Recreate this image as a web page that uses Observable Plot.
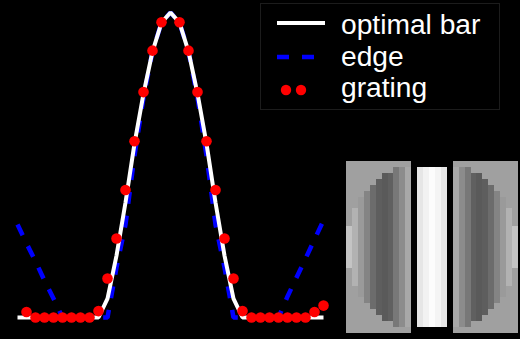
<!DOCTYPE html>
<html>
<head>
<meta charset="utf-8">
<script src="https://cdn.jsdelivr.net/npm/d3@7"></script>
<script src="https://cdn.jsdelivr.net/npm/@observablehq/plot@0.6"></script>
<style>
  html, body { margin: 0; padding: 0; background: #000; }
  #chart { position: relative; width: 520px; height: 339px; background: #000; overflow: hidden; font-family: "Liberation Sans", Arial, Helvetica, sans-serif; }
  #chart > * { position: absolute; }
</style>
</head>
<body>
<div id="chart"></div>
<script>
// ---- data ----
const positions = [-17,-16,-15,-14,-13,-12,-11,-10,-9,-8,-7,-6,-5,-4,-3,-2,-1,0,1,2,3,4,5,6,7,8,9,10,11,12,13,14,15,16,17];
const optimalBar = [0,0,0,0,0,0,0,0,0,0,0.062,0.203,0.377,0.570,0.734,0.872,0.967,1.0,0.967,0.872,0.734,0.570,0.377,0.203,0.062,0,0,0,0,0,0,0,0,0,0];
const edge = [0.305,0.243,0.184,0.121,0.062,0,0,0,0,0,0,0.164,0.305,0.531,0.721,0.872,0.967,1.0,0.967,0.872,0.721,0.531,0.305,0.164,0,0,0,0,0,0,0.069,0.131,0.193,0.256,0.318];
const grating = [null,0.018,0,0,0,0,0,0,0,0.021,0.128,0.259,0.418,0.578,0.739,0.875,0.968,null,0.968,0.875,0.739,0.578,0.418,0.259,0.128,0.021,0,0,0,0,0,0,0,0.018,0.039];

const seriesNames = ["optimal bar", "edge", "grating"];

// grey-level images (0-255) : outer images per column shade and first row of the elliptical region
const outerShades = [196,178,154,132,108,94,90,96,120,140,168];
const outerStartRow = [11,8,6,5,4,3,2,2,1,1,1];
const outerBackground = 160;
const middleShades = [230,242,252,244,230];
const gridSize = 29;

// ---- main plot ----
const rows = positions.map((x, i) => ({x, bar: optimalBar[i], edge: edge[i], grating: grating[i]}));

const main = Plot.plot({
  width: 520,
  height: 339,
  marginLeft: 17,
  marginRight: 197,
  marginTop: 12,
  marginBottom: 22,
  style: {background: "#000", overflow: "visible"},
  x: {domain: [-17, 17], axis: null},
  y: {domain: [0, 1], axis: null},
  marks: [
    Plot.line(rows, {x: "x", y: "edge", stroke: "#0000ff", strokeWidth: 4.5, strokeDasharray: "12,12", strokeLinecap: "butt", strokeLinejoin: "miter"}),
    Plot.line(rows, {x: "x", y: "bar", stroke: "#ffffff", strokeWidth: 4, strokeLinecap: "butt", strokeLinejoin: "miter"}),
    Plot.dot(rows, {x: "x", y: "grating", fill: "#ff0000", r: 5.3, stroke: "none"})
  ]
});
main.style.left = "0px";
main.style.top = "0px";
document.getElementById("chart").appendChild(main);

// ---- images ----
const grey = g => `rgb(${g},${g},${g})`;
const rects = [];
outerShades.forEach((s, c) => {
  const start = outerStartRow[c];
  for (const col of [c, gridSize - 1 - c]) {
    rects.push({c: col, r1: 0, r2: gridSize, fill: grey(outerBackground)});
    rects.push({c: col, r1: start, r2: gridSize - start, fill: grey(s)});
  }
});
middleShades.forEach((s, i) => {
  rects.push({c: 12 + i, r1: 1, r2: gridSize - 1, fill: grey(s)});
});

const img = Plot.plot({
  width: 172,
  height: 172,
  margin: 0,
  style: {background: "transparent"},
  x: {domain: [0, gridSize], axis: null},
  y: {domain: [0, gridSize], axis: null, reverse: true},
  color: {type: "identity"},
  marks: [
    Plot.rect(rects, {x1: "c", x2: d => d.c + 1, y1: "r1", y2: "r2", fill: "fill", shapeRendering: "crispEdges"})
  ]
});
img.style.left = "346px";
img.style.top = "161px";
document.getElementById("chart").appendChild(img);

// ---- legend ----
const lg = d3.create("svg").attr("width", 240).attr("height", 107)
  .style("left", "260px").style("top", "3px").style("overflow", "visible");
lg.append("rect").attr("x", 0.5).attr("y", 0.5).attr("width", 239).attr("height", 106)
  .attr("fill", "#000").attr("stroke", "#1c1c1c");
lg.append("line").attr("x1", 17).attr("x2", 65).attr("y1", 20).attr("y2", 20)
  .attr("stroke", "#fff").attr("stroke-width", 4);
lg.append("line").attr("x1", 17).attr("x2", 54).attr("y1", 54).attr("y2", 54)
  .attr("stroke", "#0000ff").attr("stroke-width", 4.5).attr("stroke-dasharray", "12,13");
[26, 41].forEach(cx => lg.append("circle").attr("cx", cx).attr("cy", 87).attr("r", 5.2).attr("fill", "#ff0000"));
const baselines = [30.5, 62.5, 94.3];
seriesNames.forEach((name, i) => {
  lg.append("text").attr("x", 81).attr("y", baselines[i]).attr("fill", "#fff")
    .attr("font-family", "'Liberation Sans', Arial, Helvetica, sans-serif")
    .attr("font-size", 28.2).text(name);
});
document.getElementById("chart").appendChild(lg.node());
</script>
</body>
</html>
